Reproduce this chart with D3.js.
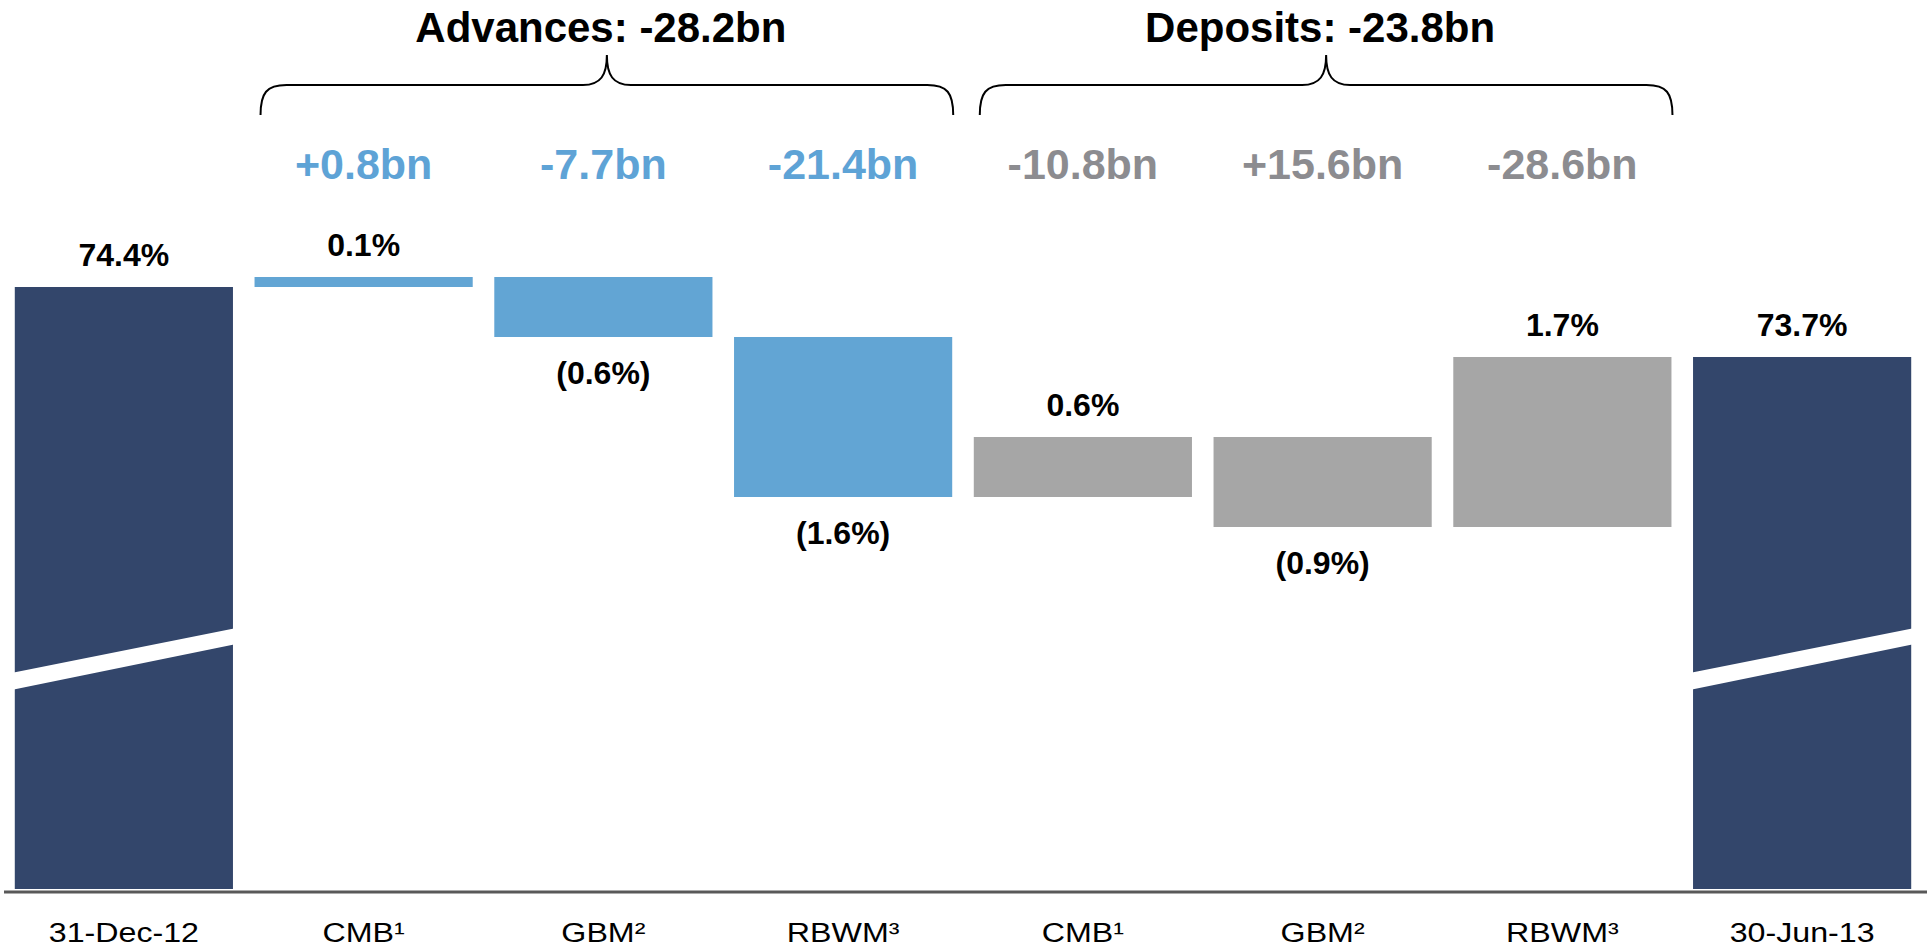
<!DOCTYPE html>
<html>
<head>
<meta charset="utf-8">
<script src="https://cdn.jsdelivr.net/npm/d3@7"></script>
<style>
  html, body { margin: 0; padding: 0; background: #ffffff; }
  svg { display: block; font-family: "Liberation Sans", Arial, sans-serif; }
</style>
</head>
<body>
<svg id="chart" width="1927" height="947"></svg>
<script>
// ---------------- data ----------------
const categories = ["31-Dec-12", "CMB¹", "GBM²", "RBWM³", "CMB¹ ", "GBM² ", "RBWM³ ", "30-Jun-13"];
const startValue = 74.4;
const endValue = 73.7;
const deltas = [0.1, -0.6, -1.6, 0.6, -0.9, 1.7];           // ratio change in percentage points
const valueLabels = ["74.4%", "0.1%", "(0.6%)", "(1.6%)", "0.6%", "(0.9%)", "1.7%", "73.7%"];
const barGroups = ["total", "adv", "adv", "adv", "dep", "dep", "dep", "total"];
const bnLabels = ["", "+0.8bn", "-7.7bn", "-21.4bn", "-10.8bn", "+15.6bn", "-28.6bn", ""];
const groupTitles = ["Advances: -28.2bn", "Deposits: -23.8bn"];
const groupMembers = [[1, 2, 3], [4, 5, 6]];

// ---------------- styles ----------------
const colors = { total: "#33466b", adv: "#62a5d4", dep: "#a6a6a6" };
const bnColors = { adv: "#5ea3d6", dep: "#8c8c90" };

const svg = d3.select("#chart");

const x = d3.scaleBand()
  .domain(categories)
  .range([4, 1922])
  .paddingInner(0.09)
  .paddingOuter(0.045);

// broken axis: only the top of the ratio range is shown
const y = d3.scaleLinear().domain([73.7, 74.4]).range([357, 287]);
const baseY = 889;

// build waterfall
const bars = [];
let running = startValue;
bars.push({ cat: categories[0], y0: null, y1: startValue, label: valueLabels[0], group: barGroups[0], delta: 0 });
deltas.forEach((d, i) => {
  const from = running;
  running = running + d;
  bars.push({ cat: categories[i + 1], y0: from, y1: running, label: valueLabels[i + 1], group: barGroups[i + 1], delta: d });
});
bars.push({ cat: categories[7], y0: null, y1: endValue, label: valueLabels[7], group: barGroups[7], delta: 0 });

bars.forEach(b => {
  if (b.group === "total") {
    b.top = y(b.y1);
    b.bottom = baseY;
  } else {
    b.top = Math.min(y(b.y0), y(b.y1));
    b.bottom = Math.max(y(b.y0), y(b.y1));
  }
});

// bars
svg.append("g").selectAll("rect")
  .data(bars)
  .join("rect")
  .attr("x", d => x(d.cat))
  .attr("width", x.bandwidth())
  .attr("y", d => d.top)
  .attr("height", d => d.bottom - d.top)
  .attr("fill", d => colors[d.group]);

// axis break bands on total bars
svg.append("g").selectAll("path")
  .data(bars.filter(b => b.group === "total"))
  .join("path")
  .attr("d", d => {
    const x0 = x(d.cat) - 1, x1 = x(d.cat) + x.bandwidth() + 1;
    return `M${x0},672.5 L${x1},628.5 L${x1},644.5 L${x0},689.5 Z`;
  })
  .attr("fill", "#ffffff");

// baseline axis
svg.append("line")
  .attr("x1", 4).attr("x2", 1927)
  .attr("y1", 892).attr("y2", 892)
  .attr("stroke", "#595959")
  .attr("stroke-width", 3);

// category labels
svg.append("g").selectAll("text")
  .data(categories)
  .join("text")
  .attr("transform", d => `translate(${x(d) + x.bandwidth() / 2},942) scale(1.15,1)`)
  .attr("text-anchor", "middle")
  .attr("font-size", 28)
  .attr("fill", "#000")
  .text(d => d.trim());

// value labels
svg.append("g").selectAll("text")
  .data(bars)
  .join("text")
  .attr("x", d => x(d.cat) + x.bandwidth() / 2)
  .attr("y", d => (d.delta < 0) ? d.bottom + 47 : d.top - 21)
  .attr("text-anchor", "middle")
  .attr("font-size", 32)
  .attr("font-weight", "bold")
  .attr("fill", "#000")
  .text(d => d.label);

// bn labels
svg.append("g").selectAll("text")
  .data(bars.filter((b, i) => bnLabels[i] !== ""))
  .join("text")
  .attr("x", d => x(d.cat) + x.bandwidth() / 2)
  .attr("y", 179)
  .attr("text-anchor", "middle")
  .attr("font-size", 43)
  .attr("font-weight", "bold")
  .attr("fill", d => bnColors[d.group])
  .text(d => bnLabels[categories.indexOf(d.cat)]);

// braces + titles
groupMembers.forEach((members, gi) => {
  const first = categories[members[0]];
  const last = categories[members[members.length - 1]];
  const x0 = x(first) + 6;
  const x1 = x(last) + x.bandwidth() + 1;
  const mid = (x0 + x1) / 2;
  const yb = 115, yh = 85, yt = 55;
  const path = `M${x0},${yb} C${x0},${yb - 22} ${x0 + 6},${yh} ${x0 + 26},${yh}
    L${mid - 24},${yh} C${mid - 6},${yh} ${mid},${yh - 10} ${mid},${yt}
    C${mid},${yh - 10} ${mid + 6},${yh} ${mid + 24},${yh}
    L${x1 - 26},${yh} C${x1 - 6},${yh} ${x1},${yb - 22} ${x1},${yb}`;
  svg.append("path")
    .attr("d", path)
    .attr("fill", "none")
    .attr("stroke", "#000")
    .attr("stroke-width", 2);
  svg.append("text")
    .attr("x", mid - 6)
    .attr("y", 42)
    .attr("text-anchor", "middle")
    .attr("font-size", 42)
    .attr("font-weight", "bold")
    .attr("fill", "#000")
    .text(groupTitles[gi]);
});
</script>
</body>
</html>
